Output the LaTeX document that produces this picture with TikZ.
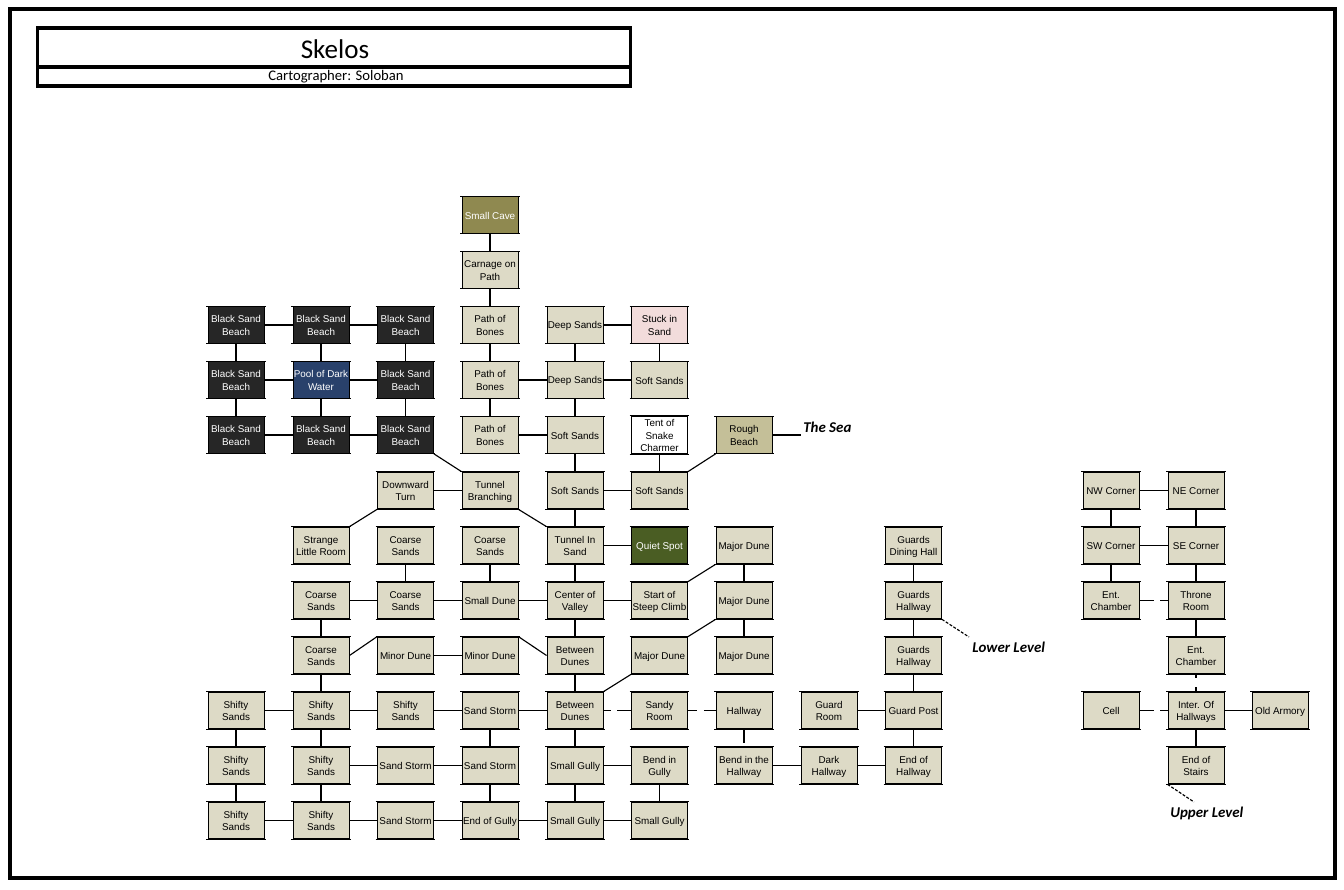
\documentclass[tikz,border=0pt]{standalone}
\usepackage{fontspec}
\setmainfont{Liberation Sans}
\newfontfamily\titlefont{Carlito}
\definecolor{sand}{HTML}{DDDAC6}
\definecolor{blacksand}{HTML}{262626}
\definecolor{pool}{HTML}{29416B}
\definecolor{cave}{HTML}{8F8950}
\definecolor{rough}{HTML}{C4BF98}
\definecolor{quiet}{HTML}{4A5D23}
\definecolor{stuck}{HTML}{F2DCDB}
\tikzset{
  x=0.75pt,y=-0.75pt,
  room/.style={draw=black,line width=0.7pt,fill=sand,minimum width=42pt,minimum height=27.6pt,inner sep=0pt,
    align=center,font=\fontsize{7.4}{9.7}\selectfont,text=black},
  darkroom/.style={room,fill=blacksand,text=white},
  poolroom/.style={room,fill=pool,text=white},
  caveroom/.style={room,fill=cave,text=white},
  quietroom/.style={room,fill=quiet,text=white},
  stuckroom/.style={room,fill=stuck},
  tentroom/.style={room,fill=white},
  roughroom/.style={room,fill=rough},
  link/.style={draw=black,line width=0.85pt},
  levellink/.style={draw=black,line width=0.85pt,dash pattern=on 2.2pt off 1.2pt},
  note/.style={font=\titlefont\bfseries\itshape\fontsize{11.2}{13}\selectfont,inner sep=0pt},
  frameline/.style={draw=black,line width=2.6pt},
}
\newcommand{\roomstrut}{\rule[-1.5pt]{0pt}{9pt}}
\newcommand{\room}[4][room]{\node[#1] (#2) at (#3) {\roomstrut#4\roomstrut};
  \draw[link] ([xshift=-1pt]#2.north west) -- ([xshift=1pt]#2.north east);
  \draw[link] ([xshift=-1pt]#2.south west) -- ([xshift=1pt]#2.south east);}
\def\cA{236}\def\cB{321}\def\cC{405.5}\def\cD{490}\def\cE{575}\def\cF{659.5}\def\cG{744}\def\cH{829}\def\cI{913.5}\def\cJ{1111}\def\cK{1196}\def\cL{1280}
\def\ra{215}\def\rb{270}\def\rc{325}\def\rd{380}\def\re{435}\def\rf{490.5}\def\rg{545.5}\def\rh{600.5}\def\ri{655.5}\def\rj{710.5}\def\rk{765.5}\def\rl{820.5}
\begin{document}
\begin{tikzpicture}
\useasboundingbox (0,0) rectangle (1344,889);
\fill[white] (0,0) rectangle (1344,889);
\node[frameline,minimum width=993.5pt,minimum height=651.5pt,inner sep=0pt] (frame) at (672.5,443.5) {};
\node[frameline,minimum width=445pt,minimum height=29pt,inner sep=0pt,font=\titlefont\fontsize{20.3}{24}\selectfont] (title) at (334,47.5) {\hspace{1.5pt}\raisebox{-8.2pt}[0pt][0pt]{Skelos}};
\node[frameline,minimum width=445pt,minimum height=14pt,inner sep=0pt,font=\titlefont\fontsize{11}{13}\selectfont] (carto) at (334,76.5) {\hspace{3pt}\raisebox{-3.2pt}[0pt][0pt]{Cartographer: Soloban}};

\room[caveroom]{D1}{\cD,\ra}{Small Cave}
\room{D2}{\cD,\rb}{Carnage on\\Path}
\room{D3}{\cD,\rc}{Path of\\Bones}
\room{D4}{\cD,\rd}{Path of\\Bones}
\room{D5}{\cD,\re}{Path of\\Bones}
\room[darkroom]{A3}{\cA,\rc}{Black Sand\\Beach}
\room[darkroom]{B3}{\cB,\rc}{Black Sand\\Beach}
\room[darkroom]{C3}{\cC,\rc}{Black Sand\\Beach}
\room[darkroom]{A4}{\cA,\rd}{Black Sand\\Beach}
\room[poolroom]{B4}{\cB,\rd}{Pool of Dark\\Water}
\room[darkroom]{C4}{\cC,\rd}{Black Sand\\Beach}
\room[darkroom]{A5}{\cA,\re}{Black Sand\\Beach}
\room[darkroom]{B5}{\cB,\re}{Black Sand\\Beach}
\room[darkroom]{C5}{\cC,\re}{Black Sand\\Beach}
\room{E3}{\cE,\rc}{Deep Sands}
\room[stuckroom]{F3}{\cF,\rc}{Stuck in\\Sand}
\room{E4}{\cE,\rd}{Deep Sands}
\room{F4}{\cF,\rd}{Soft Sands}
\room{E5}{\cE,\re}{Soft Sands}
\room[tentroom]{F5}{\cF,\re}{Tent of\\Snake\\Charmer}
\room[roughroom]{G5}{\cG,\re}{Rough\\Beach}
\room{C6}{\cC,\rf}{Downward\\Turn}
\room{D6}{\cD,\rf}{Tunnel\\Branching}
\room{E6}{\cE,\rf}{Soft Sands}
\room{F6}{\cF,\rf}{Soft Sands}
\room{B7}{\cB,\rg}{Strange\\Little Room}
\room{C7}{\cC,\rg}{Coarse\\Sands}
\room{D7}{\cD,\rg}{Coarse\\Sands}
\room{E7}{\cE,\rg}{Tunnel In\\Sand}
\room[quietroom]{F7}{\cF,\rg}{Quiet Spot}
\room{G7}{\cG,\rg}{Major Dune}
\room{I7}{\cI,\rg}{Guards\\Dining Hall}
\room{B8}{\cB,\rh}{Coarse\\Sands}
\room{C8}{\cC,\rh}{Coarse\\Sands}
\room{D8}{\cD,\rh}{Small Dune}
\room{E8}{\cE,\rh}{Center of\\Valley}
\room{F8}{\cF,\rh}{Start of\\Steep Climb}
\room{G8}{\cG,\rh}{Major Dune}
\room{I8}{\cI,\rh}{Guards\\Hallway}
\room{B9}{\cB,\ri}{Coarse\\Sands}
\room{C9}{\cC,\ri}{Minor Dune}
\room{D9}{\cD,\ri}{Minor Dune}
\room{E9}{\cE,\ri}{Between\\Dunes}
\room{F9}{\cF,\ri}{Major Dune}
\room{G9}{\cG,\ri}{Major Dune}
\room{I9}{\cI,\ri}{Guards\\Hallway}
\room{A10}{\cA,\rj}{Shifty\\Sands}
\room{B10}{\cB,\rj}{Shifty\\Sands}
\room{C10}{\cC,\rj}{Shifty\\Sands}
\room{D10}{\cD,\rj}{Sand Storm}
\room{E10}{\cE,\rj}{Between\\Dunes}
\room{F10}{\cF,\rj}{Sandy\\Room}
\room{G10}{\cG,\rj}{Hallway}
\room{H10}{\cH,\rj}{Guard\\Room}
\room{I10}{\cI,\rj}{Guard Post}
\room{A11}{\cA,\rk}{Shifty\\Sands}
\room{B11}{\cB,\rk}{Shifty\\Sands}
\room{C11}{\cC,\rk}{Sand Storm}
\room{D11}{\cD,\rk}{Sand Storm}
\room{E11}{\cE,\rk}{Small Gully}
\room{F11}{\cF,\rk}{Bend in\\Gully}
\room{G11}{\cG,\rk}{Bend in the\\Hallway}
\room{H11}{\cH,\rk}{Dark\\Hallway}
\room{I11}{\cI,\rk}{End of\\Hallway}
\room{A12}{\cA,\rl}{Shifty\\Sands}
\room{B12}{\cB,\rl}{Shifty\\Sands}
\room{C12}{\cC,\rl}{Sand Storm}
\room{D12}{\cD,\rl}{End of Gully}
\room{E12}{\cE,\rl}{Small Gully}
\room{F12}{\cF,\rl}{Small Gully}
\room{J6}{\cJ,\rf}{NW Corner}
\room{K6}{\cK,\rf}{NE Corner}
\room{J7}{\cJ,\rg}{SW Corner}
\room{K7}{\cK,\rg}{SE Corner}
\room{J8}{\cJ,\rh}{Ent.\\Chamber}
\room{K8}{\cK,\rh}{Throne\\Room}
\room{K9}{\cK,\ri}{Ent.\\Chamber}
\room{J10}{\cJ,\rj}{Cell}
\room{K10}{\cK,\rj}{Inter. Of\\Hallways}
\room{L10}{\cL,\rj}{Old Armory}
\room{K11}{\cK,\rk}{End of\\Stairs}

\node[note,anchor=west] (sea) at (803,427) {The Sea};
\node[note,anchor=west] (lower) at (972,647) {Lower Level};
\node[note,anchor=west] (upper) at (1170,813.5) {Upper Level};
\coordinate (seaend) at (801,435);
\coordinate (lowerend) at (969,637);
\coordinate (upperend) at (1194,802);

\foreach \a/\b in {D1/D2,D2/D3,D3/D4,D4/D5,D4/E4,D5/E5,E3/F3,E3/E4,E4/F4,F3/F4,E4/E5,E5/E6,E6/F6,F5/F6,E6/E7,
  C6/D6,E7/F7,E7/E8,A3/B3,B3/C3,A3/A4,B3/B4,C3/C4,A4/B4,B4/C4,A4/A5,B4/B5,C4/C5,A5/B5,B5/C5,
  C7/C8,D7/D8,B8/C8,C8/D8,D8/E8,E8/F8,G7/G8,G8/G9,E8/E9,E9/E10,C9/D9,B8/B9,B9/B10,A10/B10,B10/C10,C10/D10,D10/E10,
  A10/A11,B10/B11,A11/A12,B11/B12,A12/B12,B11/C11,C11/D11,B12/C12,C12/D12,D10/D11,D11/D12,E10/E11,E11/E12,D12/E12,E12/F12,
  E11/F11,F11/F12,G11/H11,H11/I11,I10/I11,H10/I10,I9/I10,I8/I9,I7/I8,
  J6/K6,J6/J7,K6/K7,J7/K7,J7/J8,K7/K8,K8/K9,K10/L10,K10/K11}
  {\draw[link] (\a) -- (\b);}
\draw[link] (G5.east) -- (seaend);
\foreach \a/\b in {F6.north east/G5.south west,C5.south east/D6.north west,D6.south east/E7.north west,C6.south west/B7.north east,
  F8.north east/G7.south west,G8.south west/F9.north east,F9.south west/E10.north east,D9.north east/E9.west,B9.east/C9.north west}
  {\draw[link] (\a) -- (\b);}
\foreach \a/\b/\on/\off in {E10/F10/5.5/5,F10/G10/6.8/5.2,G10/G11/10.5/3,J8/K8/11.2/4.5,K9/K10/3/6.8,J10/K10/11.2/4.5}
  {\draw[link,dash pattern=on \on pt off \off pt on 30pt] (\a) -- (\b);}
\draw[levellink] (I8.south east) -- (lowerend);
\draw[levellink] (K11.south west) -- (upperend);
\end{tikzpicture}
\end{document}
